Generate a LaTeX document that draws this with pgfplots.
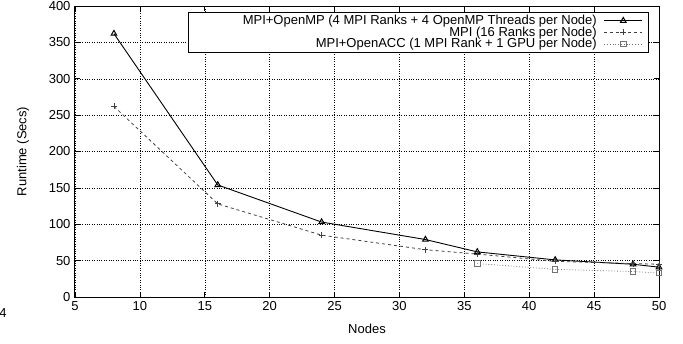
\documentclass[border=0pt]{standalone}
\usepackage{pgfplots}
\pgfplotsset{compat=1.18}
\usepackage{fontspec}
\setmainfont{Liberation Sans}
\begin{document}
\begin{tikzpicture}[x=1pt,y=1pt,font=\fontsize{13}{15}\selectfont]
\useasboundingbox (-75,-46) rectangle (608,297);
\begin{axis}[
  at={(0,0)}, anchor=south west,
  scale only axis, width=584pt, height=291pt,
  xmin=5, xmax=50, ymin=0, ymax=400,
  xtick={5,10,...,50}, ytick={0,50,...,400},
  tick align=inside, major tick length=5pt,
  tick style={black, line width=0.6pt},
  axis line style={line width=1pt},
  grid=major, grid style={dotted, black, line width=0.5pt},
  /pgf/number format/assume math mode=true,
  ticklabel style={font=\fontsize{13}{15}\selectfont},
  xticklabel style={yshift=-1pt},
  yticklabel style={xshift=-1pt},
  label style={font=\fontsize{13}{15}\selectfont},
  xlabel={Nodes}, ylabel={Runtime (Secs)},
  every axis x label/.style={at={(axis description cs:0.5,0)}, yshift=-32pt, anchor=center},
  every axis y label/.style={at={(axis description cs:0,0.5)}, xshift=-52pt, rotate=90, anchor=center},
  legend plot pos=right, legend cell align=right,
  legend style={at={(rel axis cs:0.9829,0.978)}, anchor=north east,
    draw=black, line width=0.6pt, row sep=0.7pt, column sep=5pt, inner ysep=2.5pt, inner xsep=6pt,
    nodes={inner ysep=0pt},
    font=\fontsize{13}{13}\selectfont},
  legend image code/.code={\draw[mark repeat=2,mark phase=2] plot coordinates {(0pt,0pt) (19pt,0pt) (38pt,0pt)};},
]
\addplot[black, line width=0.9pt, mark=triangle, mark size=3.2pt, mark options={solid, line width=1pt}]
  coordinates {(8,362)(16,154)(24,103)(32,79)(36,62)(42,51)(48,45)(50,41)};
\addplot[black!75, dashed, line width=0.8pt, mark=+, mark size=3pt, mark options={solid}]
  coordinates {(8,262)(16,128)(24,85)(32,65)(36,59)(42,49)(48,46)(50,45)};
\addplot[black!55, dotted, line width=0.8pt, mark=square, mark size=2.7pt, mark options={solid, line width=0.9pt}]
  coordinates {(36,46)(42,38)(48,35)(50,33)};
\legend{\hspace*{46pt}MPI+OpenMP (4 MPI Ranks + 4 OpenMP Threads per Node), MPI (16 Ranks per Node), MPI+OpenACC (1 MPI Rank + 1 GPU per Node)}
\end{axis}
\node at (-72,-16) {4};
\end{tikzpicture}
\end{document}
